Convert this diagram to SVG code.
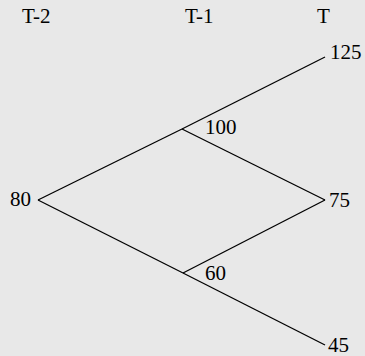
<svg xmlns="http://www.w3.org/2000/svg" width="365" height="356" viewBox="0 0 365 356">
<style>
text{font-family:"Liberation Serif","Times New Roman",serif;font-size:21px;fill:#000}
.e{stroke:#000;stroke-width:1.3;fill:none}
</style>
<rect width="365" height="356" fill="#e8e8e8"/>
<g id="headers">
<text x="22" y="23">T-2</text>
<text x="185" y="23">T-1</text>
<text x="317" y="23">T</text>
</g>
<g id="connectors">
<line class="e" x1="38" y1="200" x2="182" y2="129"/>
<line class="e" x1="182" y1="129" x2="325" y2="57"/>
<line class="e" x1="182" y1="129" x2="325" y2="200"/>
<line class="e" x1="38" y1="200" x2="183" y2="273"/>
<line class="e" x1="183" y1="273" x2="325" y2="200"/>
<line class="e" x1="183" y1="273" x2="325" y2="345"/>
</g>
<g id="n80"><text x="10" y="206">80</text></g>
<g id="n100"><text x="205" y="134">100</text></g>
<g id="n60"><text x="205" y="280">60</text></g>
<g id="n125"><text x="330" y="59">125</text></g>
<g id="n75"><text x="329" y="207">75</text></g>
<g id="n45"><text x="328" y="352">45</text></g>
</svg>
